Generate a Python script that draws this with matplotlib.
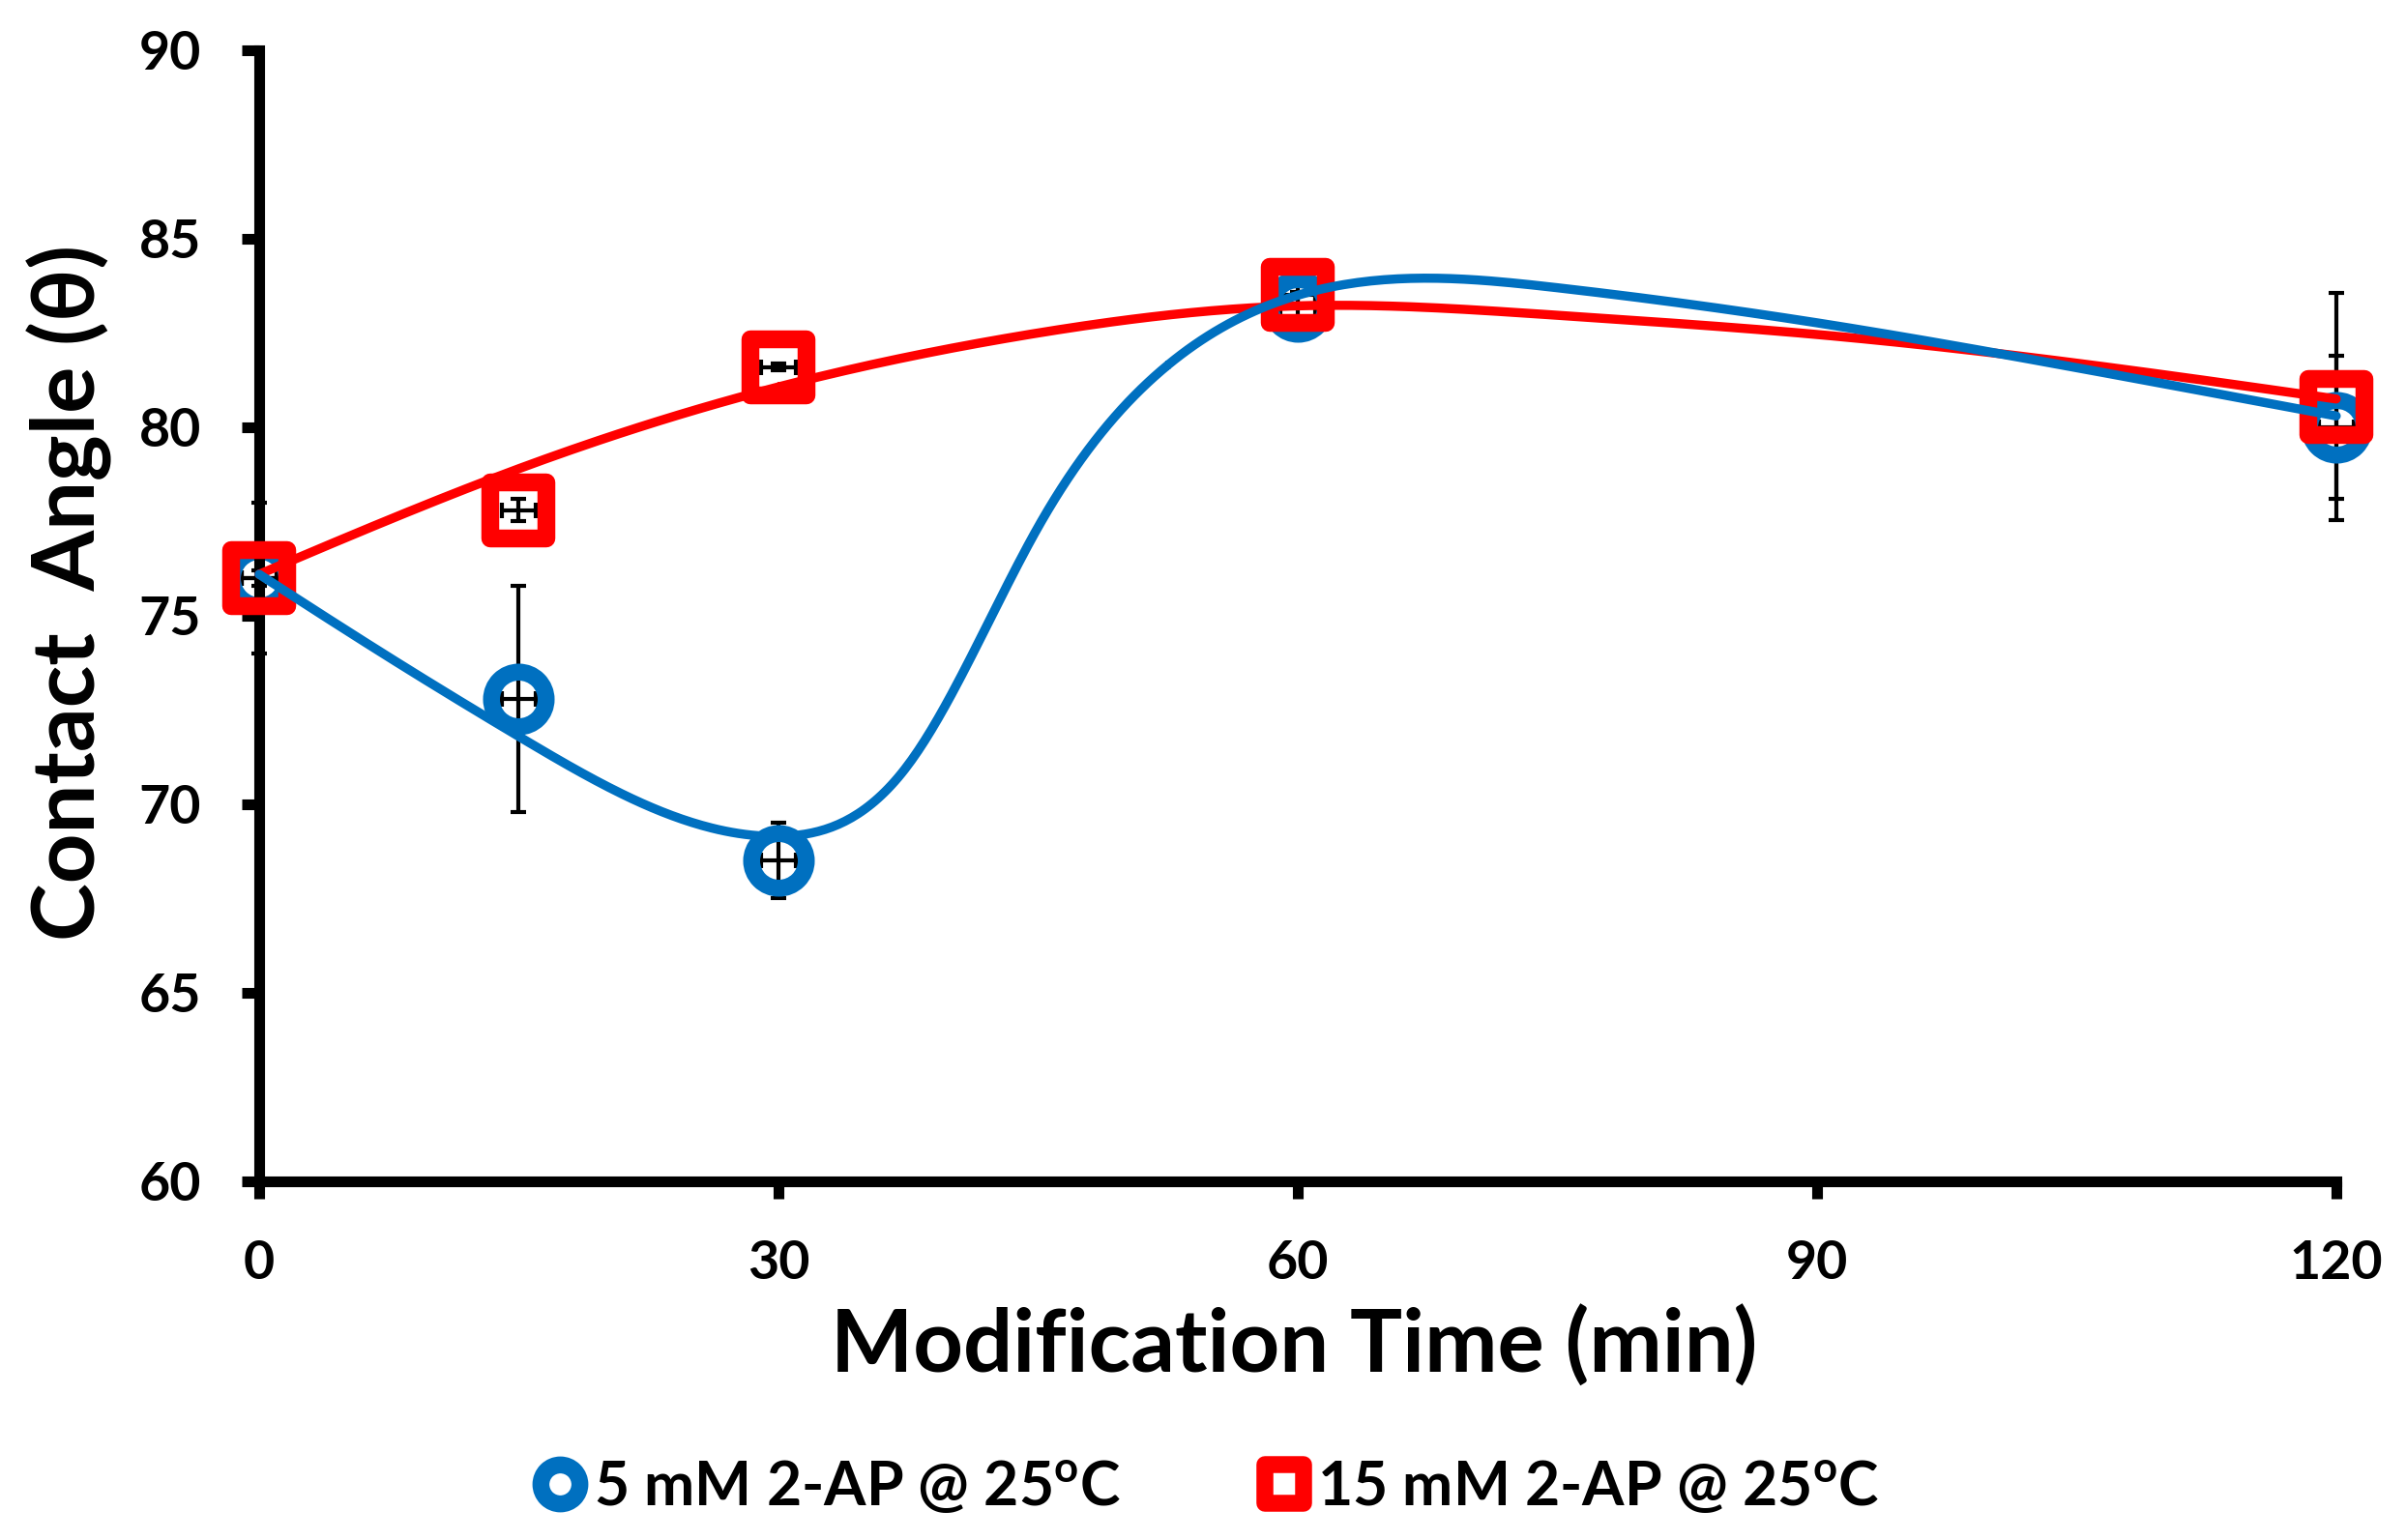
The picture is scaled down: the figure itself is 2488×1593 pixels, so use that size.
import numpy as np
import matplotlib.pyplot as plt
from matplotlib.markers import MarkerStyle
from matplotlib.lines import Line2D

plt.rcParams['font.family'] = ['Lato', 'DejaVu Sans']
plt.rcParams['font.weight'] = 'bold'
plt.rcParams['mathtext.fontset'] = 'custom'
plt.rcParams['mathtext.rm'] = 'Lato:bold'
plt.rcParams['mathtext.bf'] = 'Lato:bold'

time = [0, 15, 30, 60, 120]
time_err = [1.0, 1.0, 1.0, 1.0, 1.0]
angle_5mm = [76.0, 72.8, 68.5, 83.2, 80.0]
err_5mm = [2.0, 3.0, 1.0, 0.4, 1.9]
angle_15mm = [76.0, 77.8, 81.6, 83.5, 80.55]
err_15mm = [0.2, 0.3, 0.1, 0.3, 3.0]

# smoothed guide curves (they do not pass exactly through the points)
curve_t_5mm = [0, 7.5, 15, 22.5, 30, 37.5, 45, 52.5, 60, 75, 90, 105, 120]
curve_5mm = [76.1, 73.9, 71.8, 69.95, 69.15, 71.05, 77.35, 81.65, 83.5, 83.7, 82.77, 81.58, 80.3]
curve_t_15mm = [0, 15, 30, 45, 60, 75, 90, 105, 120]
curve_15mm = [76.1, 78.9, 81.07, 82.5, 83.22, 82.97, 82.46, 81.7, 80.75]

labels = ['5 mM 2-AP @ 25$^{\\mathrm{o}}$C', '15 mM 2-AP @ 25$^{\\mathrm{o}}$C']

blue = '#0070C0'
red = '#FF0000'

fig = plt.figure(figsize=(24.88, 15.93), dpi=100)
ax = fig.add_axes([0.1077, 0.2329, 0.8633, 0.7345])
ax.set_xlim(0, 120)
ax.set_ylim(60, 90)
ax.set_xticks([0, 30, 60, 90, 120])
ax.set_yticks([60, 65, 70, 75, 80, 85, 90])

for s in ['top', 'right']:
    ax.spines[s].set_visible(False)
for s in ['left', 'bottom']:
    ax.spines[s].set_linewidth(8)
ax.tick_params(direction='out', length=13, width=8, labelsize=40, pad=30)


def smooth(x, y, n=40):
    # natural cubic spline through the curve nodes
    x = np.asarray(x, float)
    y = np.asarray(y, float)
    k = len(x)
    h = np.diff(x)
    A = np.zeros((k, k))
    r = np.zeros(k)
    A[0, 0] = 1
    A[-1, -1] = 1
    for i in range(1, k - 1):
        A[i, i - 1] = h[i - 1]
        A[i, i] = 2 * (h[i - 1] + h[i])
        A[i, i + 1] = h[i]
        r[i] = 6 * ((y[i + 1] - y[i]) / h[i] - (y[i] - y[i - 1]) / h[i - 1])
    M = np.linalg.solve(A, r)
    xs, ys = [], []
    for i in range(k - 1):
        t = np.linspace(0, h[i], n)
        b = (y[i + 1] - y[i]) / h[i] - h[i] * (2 * M[i] + M[i + 1]) / 6
        xs.append(x[i] + t)
        ys.append(y[i] + b * t + M[i] / 2 * t**2 + (M[i + 1] - M[i]) / (6 * h[i]) * t**3)
    return np.concatenate(xs), np.concatenate(ys)


ax.errorbar(time, angle_5mm, yerr=err_5mm, xerr=time_err, fmt='none',
            ecolor='black', elinewidth=3, capsize=6, capthick=3, zorder=1, clip_on=False)
ax.errorbar(time, angle_15mm, yerr=err_15mm, xerr=time_err, fmt='none',
            ecolor='black', elinewidth=3, capsize=6, capthick=3, zorder=1, clip_on=False)

ax.plot(time, angle_5mm, ls='none', marker='o', ms=40.7, mew=12.6,
        mfc='none', mec=blue, zorder=2, clip_on=False)
ax.plot(time, angle_15mm, ls='none', marker=MarkerStyle('s', joinstyle='round'),
        ms=42, mew=13.3, mfc='none', mec=red, zorder=3, clip_on=False)

xs, ys = smooth(curve_t_15mm, curve_15mm)
ax.plot(xs, ys, color=red, lw=6.8, zorder=4, clip_on=False, solid_capstyle='round')
xs, ys = smooth(curve_t_5mm, curve_5mm)
ax.plot(xs, ys, color=blue, lw=6.8, zorder=5, clip_on=False, solid_capstyle='round')

fig.text(0.538, 0.126, 'Modification Time (min)', fontsize=65, ha='center', va='center')
fig.text(0.029, 0.615, 'Contact  Angle (\u03b8)', fontsize=65, ha='center', va='center',
         rotation=90)

handles = [
    Line2D([], [], ls='none', marker='o', ms=29, mew=12.6, mfc='none', mec=blue),
    Line2D([], [], ls='none', marker=MarkerStyle('s', joinstyle='round'),
           ms=29, mew=12.6, mfc='none', mec=red),
]
fig.legend(handles, labels, loc='center', bbox_to_anchor=(0.502, 0.0345), ncol=2,
           frameon=False, fontsize=45, handlelength=0.8, handletextpad=0.15,
           columnspacing=2.3)

fig.savefig('out.png', dpi=100)
